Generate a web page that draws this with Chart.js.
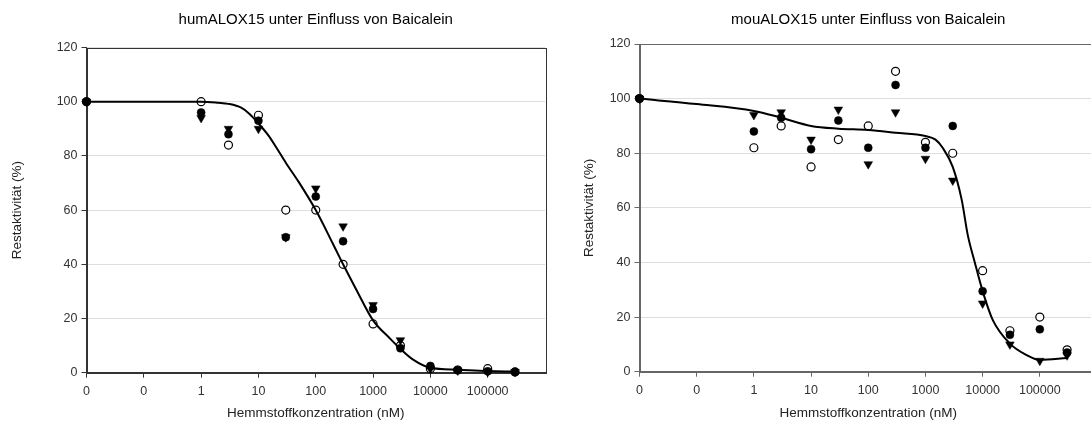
<!DOCTYPE html>
<html><head><meta charset="utf-8">
<script src="https://cdn.jsdelivr.net/npm/chart.js@4.4.1/dist/chart.umd.min.js"></script>
<style>
html,body{margin:0;padding:0;background:#fff;overflow:hidden;width:1091px;height:425px;}
.box{position:absolute;top:0;height:425px;width:560px;}
</style></head><body>
<div class="box" style="left:0"><canvas id="c1" width="560" height="425"></canvas></div>
<div class="box" style="left:560px"><canvas id="c2" width="560" height="425"></canvas></div>
<script>
// ---- data (concentrations in nM; the "0" control plotted at 0.01) ----
const concentrations = [0.01, 1, 3, 10, 30, 100, 300, 1000, 3000, 10000, 30000, 100000, 300000];
const tickValues = [0.01, 0.1, 1, 10, 100, 1000, 10000, 100000];
const tickLabels = ["0", "0", "1", "10", "100", "1000", "10000", "100000"];

// humALOX15
const humFilled   = [100, 96, 88, 93, 50, 65, 48.5, 23.5, 9, 2.5, 1, 0.5, 0.3];
const humOpen     = [100, 100, 84, 95, 60, 60, 40, 18, 10, 1.5, 1, 1.5, 0.3];
const humTriangle = [100, 94, 90, 90, 50, 68, 54, 25, 12, 1.5, 0.8, 0.3, 0.3];
const humCurveX = [0.01, 0.1, 1, 2, 3, 5, 7, 10, 15, 20, 30, 50, 100, 200, 300, 500, 1000, 2000, 3000, 5000, 10000, 30000, 100000, 300000];
const humCurveY = [100, 100, 100, 99.6, 99.2, 97.8, 95.5, 92, 87.5, 83.5, 77.5, 70.5, 60, 47.5, 40, 31, 19.3, 12.5, 8.8, 4.8, 1.8, 1.1, 0.6, 0.4];

// mouALOX15
const mouFilled   = [100, 88, 93, 81.5, 92, 82, 105, 82, 90, 29.5, 13.5, 15.5, 7];
const mouOpen     = [100, 82, 90, 75, 85, 90, 110, 84, 80, 37, 15, 20, 8];
const mouTriangle = [100, 94, 95, 85, 96, 76, 95, 78, 70, 25, 10, 4, 6];
const mouCurveX = [0.01, 0.1, 1, 3, 10, 30, 100, 300, 1000, 1500, 2000, 3000, 4300, 5500, 7300, 10000, 15000, 30000, 60000, 100000, 300000];
const mouCurveY = [100, 98, 95.5, 93, 90, 89, 88.5, 87.5, 86.3, 85, 82, 75, 63, 50, 40, 29.5, 19, 10.3, 6, 4.3, 5];

const FONT = "'Liberation Sans', Arial, Helvetica, sans-serif";
const pts = (xs, ys) => xs.map((x, i) => ({x: x, y: ys[i]}));

const framePlugin = {
  id: 'frame',
  beforeDatasetsDraw(chart, args, opts) {
    const a = chart.chartArea, ctx = chart.ctx;
    ctx.save();
    ctx.strokeStyle = opts.color;
    ctx.lineWidth = 1;
    ctx.strokeRect(Math.round(a.left) + 0.5, Math.round(a.top) + 0.5, Math.round(a.right - a.left), Math.round(a.bottom - a.top));
    ctx.restore();
  }
};

function makeChart(id, p) {
  return new Chart(document.getElementById(id), {
    type: 'scatter',
    plugins: [framePlugin],
    data: {
      datasets: [
        {data: pts(p.curveX, p.curveY), showLine: true, borderColor: '#000', borderWidth: 2,
         pointRadius: 0, cubicInterpolationMode: 'monotone', clip: false},
        {data: pts(concentrations, p.filled), pointStyle: 'circle', pointRadius: 4,
         pointBackgroundColor: '#000', pointBorderColor: '#000', pointBorderWidth: 0.5, clip: false},
        {data: pts(concentrations, p.tri), pointStyle: 'triangle', pointRotation: 180, pointRadius: 5,
         pointBackgroundColor: '#000', pointBorderColor: '#000', pointBorderWidth: 0.5, clip: false},
        {data: pts(concentrations, p.open), pointStyle: 'circle', pointRadius: 4,
         pointBackgroundColor: '#fff', pointBorderColor: '#000', pointBorderWidth: 1.2, clip: false}
      ]
    },
    options: {
      responsive: false, animation: false, events: [],
      layout: {padding: {left: 0, right: p.padRight, top: 0, bottom: 0}},
      plugins: {
        legend: {display: false}, tooltip: {enabled: false},
        frame: {color: p.frameColor},
        title: {display: true, text: p.title, fullSize: false, color: '#000',
                font: {family: FONT, size: 15, weight: 'normal'},
                padding: {top: 11, bottom: p.titlePadBottom}}
      },
      scales: {
        x: {
          type: 'logarithmic', min: 0.01, max: 1000000,
          afterBuildTicks: s => { s.ticks = tickValues.map(v => ({value: v})); },
          afterFit: s => { s.height = p.xHeight; },
          ticks: {autoSkip: false, maxRotation: 0, minRotation: 0, padding: 6, color: '#333',
                  font: {family: FONT, size: 12.5}, callback: (v, i) => tickLabels[i]},
          grid: {drawOnChartArea: false, drawTicks: true, tickLength: 5, tickColor: p.frameColor},
          border: {color: p.frameColor, width: 1},
          title: {display: true, text: 'Hemmstoffkonzentration (nM)', color: '#222',
                  font: {family: FONT, size: 13.5}, padding: {top: 0, bottom: 4}}
        },
        y: {
          min: 0, max: 120,
          afterFit: s => { s.width = p.yWidth; },
          ticks: {stepSize: 20, padding: 4, color: '#333', font: {family: FONT, size: 12.5}},
          grid: {color: '#dedede', tickColor: p.frameColor, tickLength: 5},
          border: {color: p.frameColor, width: 1},
          title: {display: true, text: 'Restaktivität (%)', color: '#222',
                  font: {family: FONT, size: 13.5}, padding: {top: p.yTitlePad, bottom: 0}}
        }
      }
    }
  });
}

makeChart('c1', {
  title: 'humALOX15 unter Einfluss von Baicalein',
  curveX: humCurveX, curveY: humCurveY,
  open: humOpen, filled: humFilled, tri: humTriangle,
  padRight: 15, titlePadBottom: 18.5, xHeight: 52.3, yWidth: 86.5, yTitlePad: 9.4, frameColor: '#333'
});
makeChart('c2', {
  title: 'mouALOX15 unter Einfluss von Baicalein',
  curveX: mouCurveX, curveY: mouCurveY,
  open: mouOpen, filled: mouFilled, tri: mouTriangle,
  padRight: 23, titlePadBottom: 15, xHeight: 53.3, yWidth: 79.5, yTitlePad: 21.2, frameColor: '#666'
});
</script>
</body></html>
